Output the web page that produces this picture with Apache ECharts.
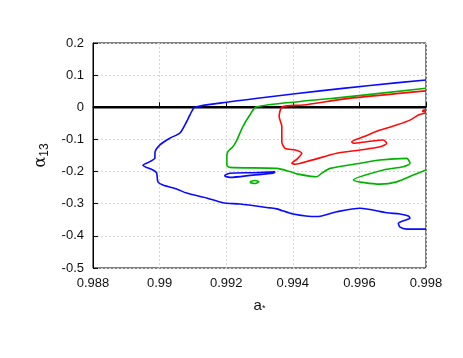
<!DOCTYPE html>
<html>
<head>
<meta charset="utf-8">
<script src="https://cdn.jsdelivr.net/npm/echarts@6/dist/echarts.min.js"></script>
<style>
  html, body { margin: 0; padding: 0; background: #fff; }
  #chart { width: 463px; height: 358px; }
</style>
</head>
<body>
<div id="chart"></div>
<script>
// axis ranges / ticks
const xRange = [0.988, 0.998];
const yRange = [-0.5, 0.2];

// contour lines, [a*, alpha13] pairs
const blueMain = [
  [0.998, 0.085], [0.99632, 0.068], [0.99482, 0.051], [0.99332, 0.033], [0.99211, 0.017], [0.99106, 0.0],
  [0.99091, -0.024], [0.99081, -0.045], [0.99061, -0.080], [0.99031, -0.096], [0.99001, -0.117],
  [0.98986, -0.142], [0.98986, -0.158], [0.98971, -0.169], [0.98950, -0.180], [0.98980, -0.195],
  [0.98991, -0.204], [0.98995, -0.232], [0.99010, -0.242], [0.99051, -0.254], [0.99081, -0.267],
  [0.99141, -0.282], [0.99190, -0.297], [0.99241, -0.301], [0.99332, -0.313], [0.99352, -0.316],
  [0.99401, -0.332], [0.99472, -0.340], [0.99532, -0.325], [0.99602, -0.314], [0.99682, -0.328],
  [0.99722, -0.332], [0.99747, -0.338], [0.99752, -0.345], [0.99732, -0.353], [0.99717, -0.361],
  [0.99722, -0.373], [0.99742, -0.379], [0.998, -0.379]
];
const blueLoop = [
  [0.99196, -0.211], [0.99211, -0.205], [0.99281, -0.2035], [0.99347, -0.201], [0.99341, -0.205],
  [0.99280, -0.211], [0.99211, -0.218], [0.99196, -0.214], [0.99196, -0.211]
];
const greenMain = [
  [0.998, 0.059], [0.99542, 0.030], [0.99422, 0.018], [0.99290, 0.001],
  [0.99271, -0.024], [0.99250, -0.060], [0.99232, -0.102], [0.99220, -0.123], [0.99205, -0.138],
  [0.99202, -0.154], [0.99202, -0.180], [0.99211, -0.187], [0.99352, -0.190], [0.99392, -0.200],
  [0.99416, -0.208], [0.99472, -0.216], [0.99487, -0.205], [0.99512, -0.190], [0.99602, -0.174],
  [0.99662, -0.164], [0.99742, -0.159], [0.99752, -0.174], [0.99732, -0.185], [0.99672, -0.195],
  [0.99582, -0.226], [0.99662, -0.239], [0.99712, -0.232], [0.99762, -0.211], [0.998, -0.195]
];
const greenLoop = [
  [0.99271, -0.232], [0.99287, -0.228], [0.99298, -0.232], [0.99287, -0.237], [0.99271, -0.234], [0.99271, -0.232]
];
const redMain = [
  [0.998, 0.051], [0.99563, 0.027], [0.99431, 0.007], [0.99368, 0.001],
  [0.99359, -0.029], [0.99367, -0.060], [0.99367, -0.107], [0.99377, -0.128], [0.99407, -0.133],
  [0.99427, -0.143], [0.99412, -0.162], [0.99397, -0.174], [0.99407, -0.177], [0.99452, -0.166],
  [0.99532, -0.143], [0.99602, -0.133], [0.99662, -0.123], [0.99682, -0.112], [0.99672, -0.102],
  [0.99622, -0.107], [0.99582, -0.112], [0.99577, -0.107], [0.99612, -0.092], [0.99662, -0.071],
  [0.99712, -0.055], [0.99752, -0.040], [0.99777, -0.024], [0.99792, -0.019], [0.998, -0.017]
];
const redLoop = [
  [0.998, -0.008], [0.99792, -0.009], [0.99790, -0.013], [0.998, -0.014]
];
const zeroLine = [[0.988, 0], [0.998, 0]];

const labelFont = { fontFamily: 'Liberation Sans', fontSize: 13, color: '#111' };

function contour(data, color) {
  return {
    type: 'line',
    data: data,
    showSymbol: false,
    smooth: 0.25,
    lineStyle: { color: color, width: 1.6 },
    silent: true,
    z: 3
  };
}

const chart = echarts.init(document.getElementById('chart'));
chart.setOption({
  animation: false,
  grid: {
    left: 93, right: 37, top: 43, bottom: 90,
    show: true, borderColor: '#000', borderWidth: 1
  },
  xAxis: {
    type: 'value',
    min: xRange[0], max: xRange[1], interval: 0.002,
    name: 'a{s|*}',
    nameLocation: 'middle',
    nameGap: 30,
    nameTextStyle: {
      fontFamily: 'Liberation Sans', fontSize: 15, color: '#111',
      rich: { s: { fontSize: 9, verticalAlign: 'bottom', padding: [4, 0, 0, 0] } }
    },
    axisLine: { show: true, lineStyle: { color: '#000', width: 1 } },
    axisTick: { show: true, inside: true, length: 5, lineStyle: { color: '#000' } },
    axisLabel: Object.assign({ margin: 9, formatter: v => String(+v.toFixed(3)) }, labelFont),
    splitLine: { show: true, lineStyle: { color: '#d6d6d6', type: [2, 2], width: 1 } }
  },
  yAxis: {
    type: 'value',
    min: yRange[0], max: yRange[1], interval: 0.1,
    name: '{a|α}{s|13}',
    nameLocation: 'middle',
    nameGap: 42,
    nameTextStyle: {
      fontFamily: 'Liberation Sans', color: '#111',
      rich: {
        a: { fontFamily: 'DejaVu Serif', fontSize: 16, color: '#111' },
        s: { fontFamily: 'Liberation Sans', fontSize: 12, color: '#111', padding: [8, 0, 0, 0] }
      }
    },
    axisLine: { show: true, lineStyle: { color: '#000', width: 1 } },
    axisTick: { show: true, inside: true, length: 5, lineStyle: { color: '#000' } },
    axisLabel: Object.assign({ margin: 9, formatter: v => String(+v.toFixed(1)) }, labelFont),
    splitLine: { show: true, lineStyle: { color: '#d6d6d6', type: [2, 2], width: 1 } }
  },
  series: [
    {
      type: 'line', data: zeroLine, showSymbol: false, silent: true, z: 2,
      lineStyle: { color: '#000', width: 2.6 }
    },
    contour(blueMain, '#0a0aff'),
    contour(blueLoop, '#0a0aff'),
    contour(greenMain, '#00b300'),
    contour(greenLoop, '#00b300'),
    contour(redMain, '#ff0a0a'),
    contour(redLoop, '#ff0a0a')
  ]
});
</script>
</body>
</html>
